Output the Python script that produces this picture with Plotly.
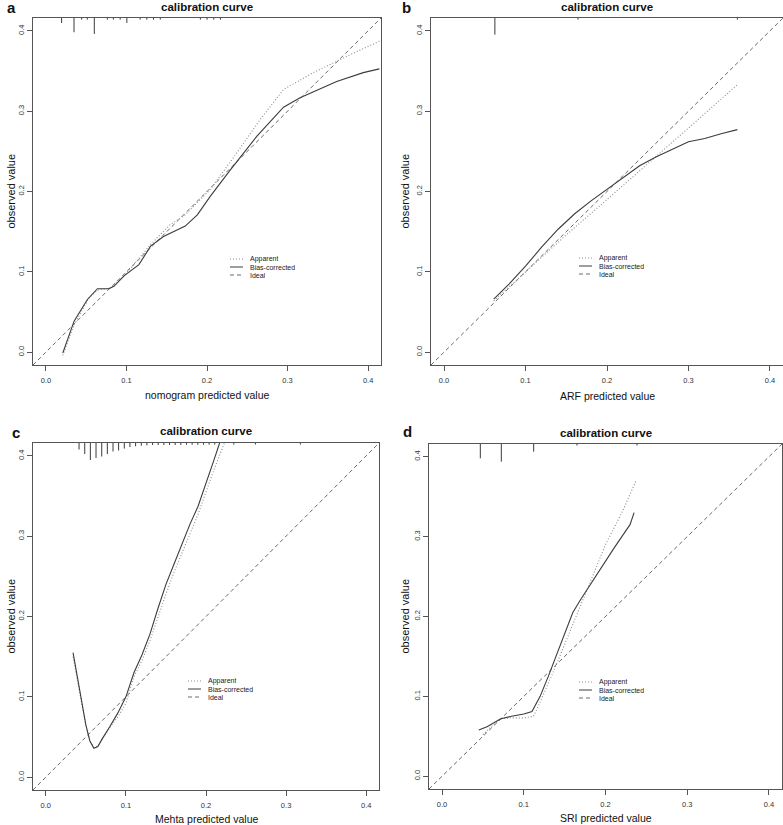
import plotly.graph_objects as go

W, H = 783, 825

# ---------------- data ----------------
# Panel a : nomogram
a_app_x = [0.021, 0.035, 0.0536, 0.064, 0.080, 0.097, 0.13, 0.1546, 0.173, 0.204, 0.237, 0.266, 0.295, 0.332, 0.373, 0.414]
a_app_y = [-0.004, 0.034, 0.0676, 0.077, 0.080, 0.0946, 0.134, 0.159, 0.171, 0.2025, 0.248, 0.2896, 0.327, 0.348, 0.368, 0.387]
a_bias_x = [0.021, 0.035, 0.0515, 0.064, 0.078, 0.0845, 0.097, 0.1155, 0.13, 0.146, 0.173, 0.188, 0.204, 0.229, 0.262, 0.295, 0.3155, 0.361, 0.394, 0.414]
a_bias_y = [-0.001, 0.0386, 0.0656, 0.079, 0.079, 0.082, 0.095, 0.109, 0.132, 0.144, 0.157, 0.171, 0.194, 0.227, 0.269, 0.305, 0.3166, 0.337, 0.348, 0.3527]
a_rug_x = [0.0195, 0.0349, 0.0444, 0.0514, 0.0601, 0.0763, 0.0838, 0.0922, 0.1005, 0.117, 0.1253, 0.1336, 0.142, 0.1918, 0.2001, 0.2084, 0.2167]
a_rug_h = [0.0062, 0.0177, 0.002, 0.002, 0.0198, 0.002, 0.002, 0.002, 0.0062, 0.002, 0.002, 0.002, 0.002, 0.002, 0.002, 0.002, 0.002]

# Panel b : ARF
b_app_x = [0.061, 0.1, 0.15, 0.2, 0.25, 0.3, 0.36]
b_app_y = [0.064, 0.1, 0.146, 0.19, 0.234, 0.279, 0.333]
b_bias_x = [0.061, 0.08, 0.1, 0.12, 0.14, 0.16, 0.18, 0.2, 0.22, 0.24, 0.26, 0.28, 0.30, 0.32, 0.34, 0.36]
b_bias_y = [0.066, 0.085, 0.107, 0.131, 0.153, 0.172, 0.188, 0.203, 0.217, 0.232, 0.243, 0.253, 0.262, 0.266, 0.272, 0.277]
b_rug_x = [0.0624, 0.1644, 0.360]
b_rug_h = [0.0207, 0.002, 0.002]

# Panel c : Mehta
c_app_x = [0.034, 0.04, 0.045, 0.05, 0.055, 0.06, 0.065, 0.07, 0.08, 0.09, 0.1, 0.11, 0.12, 0.13, 0.14, 0.15, 0.16, 0.17, 0.18, 0.19, 0.2, 0.21, 0.223]
c_app_y = [0.15, 0.118, 0.088, 0.064, 0.045, 0.037, 0.039, 0.047, 0.062, 0.075, 0.092, 0.125, 0.145, 0.17, 0.2, 0.228, 0.255, 0.28, 0.303, 0.327, 0.355, 0.383, 0.416]
c_bias_x = [0.034, 0.04, 0.045, 0.05, 0.055, 0.06, 0.065, 0.07, 0.08, 0.09, 0.1, 0.11, 0.12, 0.13, 0.14, 0.15, 0.16, 0.17, 0.18, 0.19, 0.2, 0.21, 0.217]
c_bias_y = [0.155, 0.12, 0.09, 0.065, 0.045, 0.036, 0.038, 0.047, 0.063, 0.08, 0.1, 0.13, 0.152, 0.178, 0.21, 0.24, 0.265, 0.29, 0.315, 0.337, 0.365, 0.395, 0.416]
c_rug_x = [0.0415, 0.0486, 0.0556, 0.0627, 0.0698, 0.0768, 0.0839, 0.0909, 0.098, 0.105, 0.1121, 0.1192, 0.1262, 0.1333,
           0.1403, 0.1474, 0.1545, 0.1615, 0.1686, 0.1756, 0.1827, 0.1898, 0.1968, 0.2039, 0.2109, 0.2347, 0.2617, 0.3178]
c_rug_h = [0.0081, 0.0137, 0.0212, 0.0187, 0.0168, 0.0137, 0.0106, 0.0093, 0.0069, 0.005, 0.0041, 0.0034, 0.0029, 0.0025,
           0.0025, 0.0025, 0.0025, 0.0025, 0.0025, 0.0022, 0.0022, 0.0022, 0.0021, 0.0021, 0.0019, 0.0019, 0.0019, 0.0019]

# Panel d : SRI
d_app_x = [0.05, 0.06, 0.072, 0.085, 0.1, 0.112, 0.12, 0.14, 0.16, 0.18, 0.2, 0.22, 0.237]
d_app_y = [0.052, 0.062, 0.072, 0.073, 0.073, 0.075, 0.093, 0.14, 0.19, 0.24, 0.29, 0.33, 0.369]
d_bias_x = [0.045, 0.055, 0.065, 0.072, 0.085, 0.1, 0.11, 0.12, 0.13, 0.14, 0.15, 0.16, 0.17, 0.18, 0.19, 0.2, 0.21, 0.22, 0.23, 0.235]
d_bias_y = [0.058, 0.062, 0.068, 0.072, 0.075, 0.078, 0.081, 0.1, 0.125, 0.152, 0.178, 0.205, 0.222, 0.238, 0.253, 0.27, 0.285, 0.3, 0.315, 0.33]
d_rug_x = [0.0468, 0.0725, 0.1121, 0.1651, 0.2385]
d_rug_h = [0.0179, 0.0221, 0.0096, 0.0019, 0.0019]

panel_letters = ["a", "b", "c", "d"]
x_titles = ["nomogram predicted value", "ARF predicted value", "Mehta predicted value", "SRI predicted value"]
y_title = "observed value"
panel_title = "calibration curve"
legend_labels = ["Apparent", "Bias-corrected", "Ideal"]
tick_vals = [0.0, 0.1, 0.2, 0.3, 0.4]
axis_range = [-0.016, 0.416]

# ---------------- style / layout ----------------
FONT = "Liberation Sans"
C_APP = "#8c8c8c"
C_BIAS = "#3c3c3c"
C_IDEAL = "#6a6a6a"
C_AX = "#555555"
DOT = "1px,2px"
DASH = "4px,3px"

# plot boxes in pixels: (left, right, top, bottom)
boxes = [(33, 381, 18, 365), (431, 783, 18, 365), (33, 379, 443, 790), (429, 782, 444, 789)]
label_pos = [(11, 7), (406, 8), (16, 432), (407, 431)]
title_y = [7, 7, 431, 433]
xtitle_y = [395, 396, 819, 818]
ytitle_x = [10, 404, 10, 404]
legend_pos = [(230, 259), (579, 258), (188, 681), (579, 682)]  # sample left x, first row y

data = [
    (a_app_x, a_app_y, a_bias_x, a_bias_y, a_rug_x, a_rug_h),
    (b_app_x, b_app_y, b_bias_x, b_bias_y, b_rug_x, b_rug_h),
    (c_app_x, c_app_y, c_bias_x, c_bias_y, c_rug_x, c_rug_h),
    (d_app_x, d_app_y, d_bias_x, d_bias_y, d_rug_x, d_rug_h),
]


def px(p):
    return p / W


def py(p):
    return 1 - p / H


fig = go.Figure()
annotations = []
shapes = []

for i, (ax_, ay_, bx_, by_, rx_, rh_) in enumerate(data):
    n = i + 1
    xa = "x" if n == 1 else f"x{n}"
    ya = "y" if n == 1 else f"y{n}"

    # ideal line along the axis range
    fig.add_trace(go.Scatter(x=axis_range, y=axis_range, mode="lines", xaxis=xa, yaxis=ya,
                             line=dict(color=C_IDEAL, width=1, dash=DASH), showlegend=False, hoverinfo="skip"))
    # apparent
    fig.add_trace(go.Scatter(x=ax_, y=ay_, mode="lines", xaxis=xa, yaxis=ya,
                             line=dict(color=C_APP, width=1.1, dash=DOT), showlegend=False))
    # bias-corrected
    fig.add_trace(go.Scatter(x=bx_, y=by_, mode="lines", xaxis=xa, yaxis=ya,
                             line=dict(color=C_BIAS, width=1.1), showlegend=False))
    # rug (distribution of predictions) hanging from the top of the plot
    top = axis_range[1]
    rxs, rys = [], []
    for xv, hv in zip(rx_, rh_):
        rxs += [xv, xv, None]
        rys += [top, top - hv, None]
    fig.add_trace(go.Scatter(x=rxs, y=rys, mode="lines", xaxis=xa, yaxis=ya,
                             line=dict(color="#3a3a3a", width=1), showlegend=False, hoverinfo="skip"))

    l, r, t, b = boxes[i]
    common = dict(range=axis_range, tickvals=tick_vals, tickformat=".1f", ticks="outside", ticklen=5,
                  tickcolor=C_AX, tickwidth=1, showline=True, mirror=True, linecolor=C_AX, linewidth=1,
                  showgrid=False, zeroline=False, tickfont=dict(family=FONT, size=7.5, color="#333"))
    fig.layout[("xaxis" if n == 1 else f"xaxis{n}")] = dict(domain=[px(l), px(r)], anchor=ya,
                                                             ticklabelstandoff=3, **common)
    fig.layout[("yaxis" if n == 1 else f"yaxis{n}")] = dict(domain=[py(b), py(t)], anchor=xa,
                                                             tickangle=-90, **common)

    cx = (l + r) / 2
    cy = (t + b) / 2
    # panel letter
    lx, ly = label_pos[i]
    annotations.append(dict(text=f"<b>{panel_letters[i]}</b>", x=px(lx), y=py(ly), xref="paper", yref="paper",
                            showarrow=False, xanchor="center", yanchor="middle",
                            font=dict(family=FONT, size=15, color="#111")))
    # title
    annotations.append(dict(text=f"<b>{panel_title}</b>", x=px(cx), y=py(title_y[i]), xref="paper", yref="paper",
                            showarrow=False, xanchor="center", yanchor="middle",
                            font=dict(family=FONT, size=11.5, color="#111")))
    # x title
    annotations.append(dict(text=x_titles[i], x=px(cx), y=py(xtitle_y[i]), xref="paper", yref="paper",
                            showarrow=False, xanchor="center", yanchor="middle",
                            font=dict(family=FONT, size=10.5, color="#111")))
    # y title
    annotations.append(dict(text=y_title, x=px(ytitle_x[i]), y=py(cy), xref="paper", yref="paper",
                            showarrow=False, xanchor="center", yanchor="middle", textangle=-90,
                            font=dict(family=FONT, size=11, color="#111")))
    # legend
    sx, sy = legend_pos[i]
    styles = [(C_APP, DOT), (C_BIAS, "solid"), (C_IDEAL, DASH)]
    for k, lab in enumerate(legend_labels):
        yy = sy + 8 * k
        col, dsh = styles[k]
        shapes.append(dict(type="line", xref="paper", yref="paper", x0=px(sx), x1=px(sx + 13),
                           y0=py(yy), y1=py(yy), line=dict(color=col, width=1, dash=dsh)))
        annotations.append(dict(text=lab, x=px(sx + 18), y=py(yy), xref="paper", yref="paper",
                                showarrow=False, xanchor="left", yanchor="middle", height=8,
                                font=dict(family=FONT, size=7, color="#222")))

fig.update_layout(width=W, height=H, margin=dict(l=0, r=0, t=0, b=0),
                  paper_bgcolor="white", plot_bgcolor="white", showlegend=False,
                  annotations=annotations, shapes=shapes)

fig.write_html("out.html", config={"displayModeBar": False},
               post_script="document.body.style.margin='0';document.body.style.overflow='hidden';")
